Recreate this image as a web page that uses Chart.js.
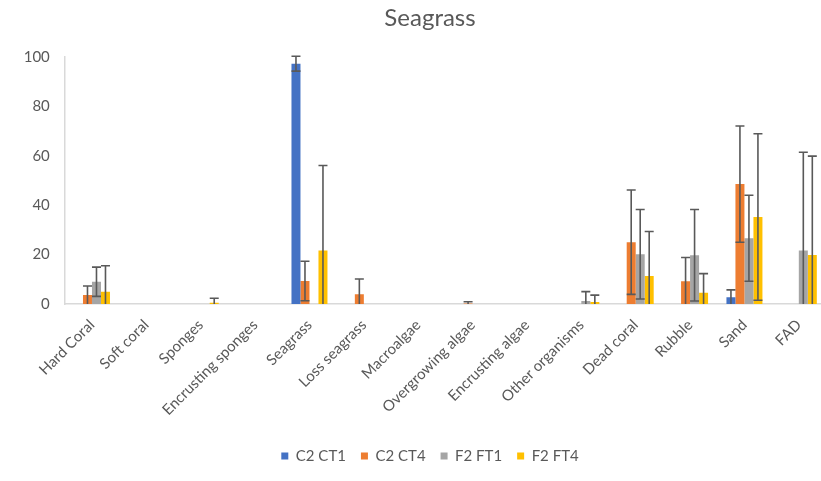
<!DOCTYPE html>
<html><head><meta charset="utf-8">
<script src="https://cdn.jsdelivr.net/npm/chart.js@4"></script>
<style>html,body{margin:0;padding:0;overflow:hidden;background:#fff;width:821px;height:481px}
#wrap{width:860px;height:481px}</style>
</head><body><div id="wrap"><canvas id="c" width="860" height="481"></canvas></div>
<script>
const categories = ["Hard Coral","Soft coral","Sponges","Encrusting sponges","Seagrass","Loss seagrass","Macroalgae","Overgrowing algae","Encrusting algae","Other organisms","Dead coral","Rubble","Sand","FAD"];
const seriesNames = ["C2 CT1","C2 CT4","F2 FT1","F2 FT4"];
const c2ct1 = [0,0,0,0,97.2,0,0,0,0,0,0,0,2.7,0];
const c2ct1Err = [0,0,0,0,3,0,0,0,0,0,0,0,3,0];
const c2ct4 = [3.6,0,0,0,9.3,3.9,0,0.2,0,0,25,9.2,48.5,0];
const c2ct4Err = [3.7,0,0,0,8,6.2,0,0.7,0,0,21.1,9.6,23.5,0];
const f2ft1 = [9,0,0,0,0,0,0,0,0,1.2,20.1,19.7,26.6,21.6];
const f2ft1Err = [5.9,0,0,0,0,0,0,0,0,3.8,18.1,18.5,17.4,39.8];
const f2ft4 = [5,0,0.5,0,21.6,0,0,0,0,0.8,11.3,4.6,35.2,19.8];
const f2ft4Err = [10.5,0,1.8,0,34.4,0,0,0,0,2.8,18,7.7,33.7,40];
const yTicks = [0,20,40,60,80,100];

const colors = ["#4472C4","#ED7D31","#A5A5A5","#FFC000"];
const values = [c2ct1,c2ct4,f2ft1,f2ft4];
const errs = [c2ct1Err,c2ct4Err,f2ft1Err,f2ft4Err];

const errorBars = {
  id:'errorBars',
  afterDatasetsDraw(chart){
    const ctx = chart.ctx, y = chart.scales.y, area = chart.chartArea;
    ctx.save();
    ctx.strokeStyle = '#595959';
    ctx.lineWidth = 1.6;
    chart.data.datasets.forEach((ds,i)=>{
      const meta = chart.getDatasetMeta(i);
      meta.data.forEach((bar,j)=>{
        const v = ds.data[j], e = ds.err[j];
        if(!v || !e) return;
        const x = bar.x;
        const hiV = v+e, loV = v-e;
        let yTop = y.getPixelForValue(hiV), yBot = y.getPixelForValue(loV);
        const botClipped = yBot > area.bottom;
        yBot = Math.min(yBot, area.bottom);
        ctx.beginPath();
        ctx.moveTo(x,yTop); ctx.lineTo(x,yBot);
        ctx.moveTo(x-4.5,yTop); ctx.lineTo(x+4.5,yTop);
        if(!botClipped){ ctx.moveTo(x-4.5,yBot); ctx.lineTo(x+4.5,yBot); }
        ctx.stroke();
      });
    });
    ctx.restore();
  }
};

new Chart(document.getElementById('c'),{
  type:'bar',
  data:{
    labels:categories,
    datasets: seriesNames.map((n,i)=>({label:n,data:values[i],err:errs[i],backgroundColor:colors[i],borderWidth:0,categoryPercentage:0.662,barPercentage:1}))
  },
  options:{
    responsive:false,animation:false,
    layout:{padding:{top:0,left:0,right:0,bottom:7.5}},
    plugins:{
      title:{display:true,text:'Seagrass',color:'#595959',font:{family:'Lato, sans-serif',size:24,weight:'normal'},padding:{top:4,bottom:24}},
      legend:{position:'bottom',labels:{color:'#595959',font:{family:'Lato, sans-serif',size:15},usePointStyle:true,pointStyle:'rect',boxWidth:7,boxHeight:7,padding:15}},
      tooltip:{enabled:false}
    },
    scales:{
      x:{grid:{display:false},border:{display:true,color:'#D9D9D9',width:1.5},
        ticks:{color:'#595959',font:{family:'Lato, sans-serif',size:15},minRotation:45,maxRotation:45,autoSkip:false,padding:4},
        afterFit(s){s.height=129.5;}},
      y:{min:0,max:100,grid:{display:false,drawTicks:false},border:{display:true,color:'#D9D9D9',width:1.5},
        afterBuildTicks(s){s.ticks = yTicks.map(v=>({value:v}));},
        ticks:{color:'#595959',font:{family:'Lato, sans-serif',size:15},padding:15},
        afterFit(s){s.width=64.8;}},
      yRight:{type:'linear',position:'right',display:true,min:0,max:100,
        grid:{display:false,drawTicks:false},border:{display:false},ticks:{display:false},
        afterFit(s){s.width=34;}}
    }
  },
  plugins:[errorBars]
});
</script></body></html>
